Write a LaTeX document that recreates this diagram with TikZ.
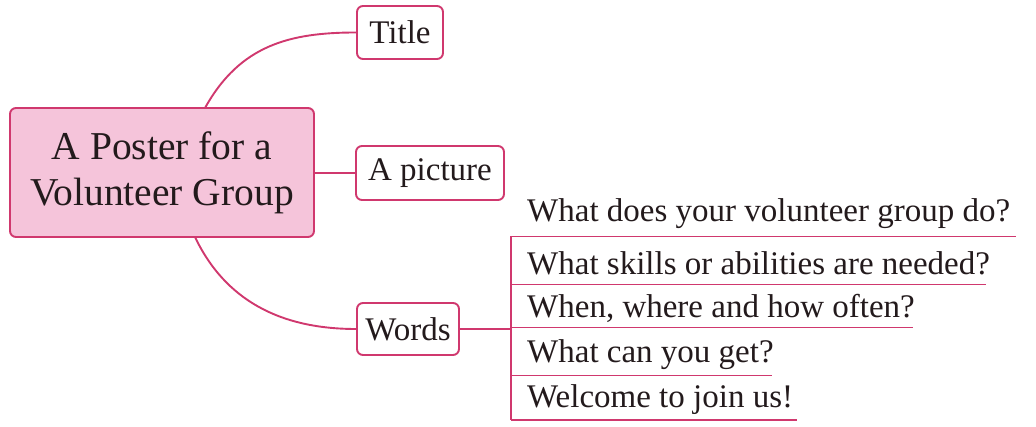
\documentclass[tikz,border=0pt]{standalone}
\usepackage{fontspec}
\setmainfont{Liberation Serif}
\definecolor{linepink}{HTML}{D0386E}
\definecolor{fillpink}{HTML}{F5C4DA}
\definecolor{inkdark}{HTML}{231A1C}
\begin{document}
\begin{tikzpicture}[x=1pt,y=-1pt,
  conn/.style={draw=linepink,line width=1.9pt},
  leaf/.style={draw=linepink,line width=1.9pt,rounded corners=6pt,fill=white,inner sep=0pt,text=inkdark,font=\fontsize{33}{38}\selectfont},
  question/.style={anchor=base west,inner sep=0pt,text=inkdark,font=\fontsize{33}{38}\selectfont}]
\useasboundingbox (0,0) rectangle (1036,427);
\node[draw=linepink,line width=1.9pt,rounded corners=6pt,fill=fillpink,minimum width=304pt,minimum height=129pt,inner sep=0pt,align=center,text=inkdark,font=\fontsize{39.5}{46}\selectfont] (main) at (162,172.5) {A Poster for a\\Volunteer Group};
\node[leaf,minimum width=86pt,minimum height=53pt] (title) at (400,32.5) {Title};
\node[leaf,minimum width=148pt,minimum height=54pt] (pic) at (430,173) {A picture};
\node[leaf,minimum width=102pt,minimum height=52pt] (words) at (408,329) {Words};
\coordinate (mt) at (205,108);
\coordinate (mb) at (195,237);
\draw[conn] (mt) .. controls (240,45) and (290,32.5) .. (title.west);
\draw[conn] (main.east |- pic.west) -- (pic.west);
\draw[conn] (mb) .. controls (225,300) and (280,329) .. (words.west);
\coordinate (bt) at (511,236.5);
\coordinate (bb) at (511,420);
\draw[conn] (words.east) -- (bt |- words.east);
\draw[conn] (bt) -- (bb);
\node[question] (q1) at (527,222) {What does your volunteer group do?};
\node[question] (q2) at (527,275) {What skills or abilities are needed?};
\node[question] (q3) at (527,318) {When, where and how often?};
\node[question] (q4) at (527,363) {What can you get?};
\node[question] (q5) at (527,407) {Welcome to join us!};
\draw[conn] (bt) -- (1016,236.5);
\draw[conn] (511,284.5) -- (986,284.5);
\draw[conn] (511,327.5) -- (913,327.5);
\draw[conn] (511,375.5) -- (772,375.5);
\draw[conn] (511,420) -- (797,420);
\end{tikzpicture}
\end{document}
